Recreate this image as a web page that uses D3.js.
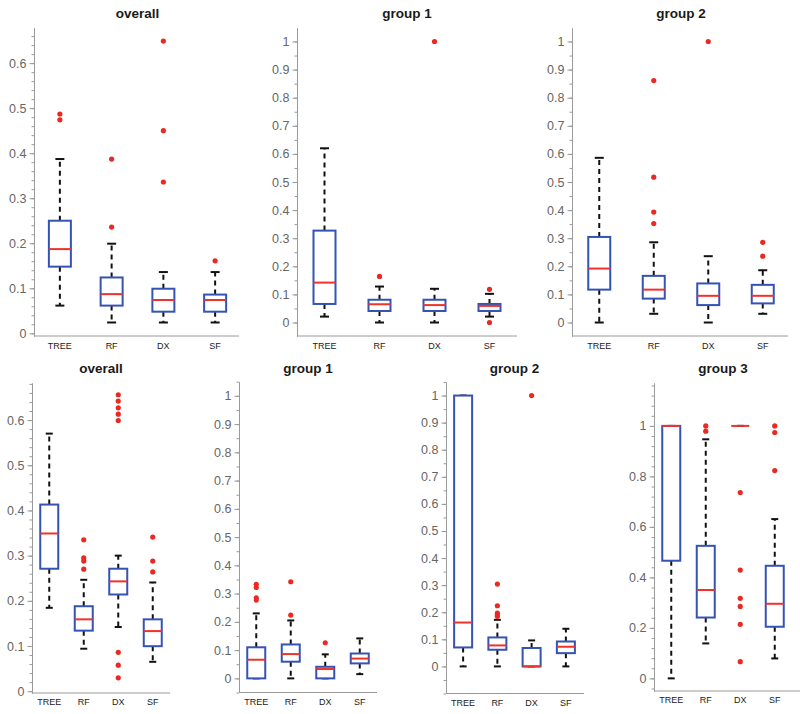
<!DOCTYPE html>
<html>
<head>
<meta charset="utf-8">
<script src="https://cdn.jsdelivr.net/npm/d3@7/dist/d3.min.js"></script>
<style>
  html, body { margin: 0; padding: 0; background: #fff; }
  svg { display: block; }
  text { font-family: "Liberation Sans", Arial, Helvetica, sans-serif; }
</style>
</head>
<body>
<svg id="chart" width="800" height="714"></svg>
<script>
// ---------- DATA ----------
const categories = ["TREE", "RF", "DX", "SF"];
const titles = ["overall", "group 1", "group 2", "overall", "group 1", "group 2", "group 3"];

// five-number summaries per category: [lower whisker, Q1, median, Q3, upper whisker]
const topOverallStats = [[0.0615, 0.148, 0.187, 0.250, 0.387], [0.024, 0.0615, 0.087, 0.124, 0.199], [0.024, 0.048, 0.074, 0.099, 0.136], [0.024, 0.048, 0.074, 0.086, 0.136]];
const topOverallOutliers = [[0.487, 0.474], [0.387, 0.236], [0.649, 0.450, 0.336], [0.161]];

const topGroup1Stats = [[0.021, 0.066, 0.142, 0.327, 0.620], [0, 0.041, 0.065, 0.081, 0.128], [0, 0.041, 0.062, 0.081, 0.120], [0.021, 0.041, 0.059, 0.066, 0.102]];
const topGroup1Outliers = [[], [0.164], [1.0], [0.118, 0]];

const topGroup2Stats = [[0, 0.117, 0.192, 0.3045, 0.586], [0.031, 0.085, 0.117, 0.166, 0.2855], [0, 0.062, 0.095, 0.139, 0.236], [0.031, 0.068, 0.095, 0.134, 0.186]];
const topGroup2Outliers = [[], [0.861, 0.517, 0.393, 0.352], [1.0], [0.2855, 0.236]];

const botOverallStats = [[0.1845, 0.271, 0.349, 0.413, 0.570], [0.094, 0.134, 0.159, 0.188, 0.2465], [0.142, 0.214, 0.243, 0.271, 0.300], [0.065, 0.0996, 0.133, 0.159, 0.2406]];
const botOverallOutliers = [[], [0.335, 0.295, 0.288, 0.270], [0.656, 0.642, 0.627, 0.613, 0.599, 0.086, 0.0576, 0.0295], [0.341, 0.288, 0.264]];

const botGroup1Stats = [[0, 0, 0.066, 0.110, 0.230], [0, 0.059, 0.086, 0.120, 0.205], [0, 0, 0.033, 0.041, 0.085], [0.015, 0.053, 0.070, 0.088, 0.1415]];
const botGroup1Outliers = [[0.333, 0.322, 0.285, 0.277], [0.342, 0.224], [0.126], []];

const botGroup2Stats = [[0, 0.070, 0.162, 1.0, 1.0], [0, 0.0615, 0.0775, 0.107, 0.172], [0, 0, 0, 0.068, 0.096], [0, 0.049, 0.0726, 0.092, 0.139]];
const botGroup2Outliers = [[], [0.304, 0.224, 0.197, 0.19, 0.185], [1.0], []];

const botGroup3Stats = [[0, 0.466, 1.0, 1.0, 1.0], [0.1385, 0.241, 0.350, 0.525, 0.947], [1, 1, 1, 1, 1], [0.079, 0.2045, 0.2955, 0.446, 0.631]];
const botGroup3Outliers = [[], [1.0, 0.979], [0.736, 0.429, 0.317, 0.285, 0.214, 0.066], [1.0, 0.974, 0.823]];

// tick labels
const ticksTenthsTo06 = [0, 0.1, 0.2, 0.3, 0.4, 0.5, 0.6];
const ticksTenthsTo1 = [0, 0.1, 0.2, 0.3, 0.4, 0.5, 0.6, 0.7, 0.8, 0.9, 1];
const ticksFifthsTo1 = [0, 0.2, 0.4, 0.6, 0.8, 1];
const tickLabels06 = ["0", "0.1", "0.2", "0.3", "0.4", "0.5", "0.6"];
const tickLabels1 = ["0", "0.1", "0.2", "0.3", "0.4", "0.5", "0.6", "0.7", "0.8", "0.9", "1"];
const tickLabelsFifths = ["0", "0.2", "0.4", "0.6", "0.8", "1"];

// ---------- LAYOUT ----------
const panels = [
  {title: titles[0], stats: topOverallStats, out: topOverallOutliers, ticks: ticksTenthsTo06, labels: tickLabels06, minor: 0.02,
   domain: [-0.006, 0.678], left: 34, right: 241, axisEnd: 239, top: 28, bottom: 336, boxW: 22, capW: 9, row: 0},
  {title: titles[1], stats: topGroup1Stats, out: topGroup1Outliers, ticks: ticksTenthsTo1, labels: tickLabels1, minor: 0.05,
   domain: [-0.048, 1.048], left: 297, right: 517, axisEnd: 517, top: 28, bottom: 336, boxW: 22, capW: 9, row: 0},
  {title: titles[2], stats: topGroup2Stats, out: topGroup2Outliers, ticks: ticksTenthsTo1, labels: tickLabels1, minor: 0.05,
   domain: [-0.048, 1.048], left: 572, right: 790, axisEnd: 788, top: 28, bottom: 336, boxW: 22, capW: 9, row: 0},
  {title: titles[3], stats: botOverallStats, out: botOverallOutliers, ticks: ticksTenthsTo06, labels: tickLabels06, minor: 0.02,
   domain: [-0.004, 0.682], left: 32, right: 170, axisEnd: 170, top: 383, bottom: 693, boxW: 18, capW: 7, row: 1},
  {title: titles[4], stats: botGroup1Stats, out: botGroup1Outliers, ticks: ticksTenthsTo1, labels: tickLabels1, minor: 0.05,
   domain: [-0.05, 1.05], left: 239, right: 377, axisEnd: 377, top: 381.7, bottom: 692.5, boxW: 18, capW: 7, row: 1},
  {title: titles[5], stats: botGroup2Stats, out: botGroup2Outliers, ticks: ticksTenthsTo1, labels: tickLabels1, minor: 0.05,
   domain: [-0.1, 1.05], left: 446, right: 583, axisEnd: 584, top: 382, bottom: 693.5, boxW: 18, capW: 7, row: 1},
  {title: titles[6], stats: botGroup3Stats, out: botGroup3Outliers, ticks: ticksFifthsTo1, labels: tickLabelsFifths, minor: 0.04,
   domain: [-0.05, 1.17], left: 654, right: 792, axisEnd: 800, top: 383, bottom: 691, boxW: 18, capW: 7, row: 1}
];

const axisColor = "#9a9a9a";
const tickTextColor = "#666666";
const boxColor = "#3553b5";
const medColor = "#f0332a";
const outColor = "#ea2a22";

const svg = d3.select("#chart");

panels.forEach(p => {
  const g = svg.append("g");
  const y = d3.scaleLinear().domain(p.domain).range([p.bottom, p.top]);
  const x = d3.scaleLinear().domain([0.5, categories.length + 0.5]).range([p.left, p.right]);
  const xc = i => x(i + 1);

  // minor ticks
  const minorVals = d3.range(Math.ceil(p.domain[0] / p.minor) * p.minor, p.domain[1] + 1e-9, p.minor)
    .map(v => Math.round(v * 1000) / 1000);
  const minorAxis = d3.axisLeft(y).tickValues(minorVals).tickSize(2.5).tickSizeOuter(0).tickFormat("");
  const gm = g.append("g").attr("transform", `translate(${p.left},0)`).call(minorAxis);
  gm.select(".domain").attr("stroke", axisColor);
  gm.selectAll(".tick line").attr("stroke", axisColor);

  // major ticks
  const majorAxis = d3.axisLeft(y).tickValues(p.ticks).tickSize(4.5).tickSizeOuter(0)
    .tickFormat((d, i) => p.labels[i]).tickPadding(3);
  const ga = g.append("g").attr("transform", `translate(${p.left},0)`).call(majorAxis);
  ga.select(".domain").attr("stroke", axisColor);
  ga.selectAll(".tick line").attr("stroke", axisColor);
  ga.selectAll(".tick text").attr("fill", tickTextColor).style("font-size", "12.5px")
    .style("font-family", "'Liberation Sans', Arial, sans-serif");

  // x axis line
  g.append("line").attr("x1", p.left).attr("x2", p.axisEnd).attr("y1", p.bottom).attr("y2", p.bottom)
    .attr("stroke", axisColor).attr("stroke-width", 1);

  // x labels
  categories.forEach((c, i) => {
    g.append("text").attr("x", xc(i)).attr("y", p.bottom + (p.row === 0 ? 12.5 : 12))
      .attr("text-anchor", "middle").attr("fill", "#222").style("font-size", "9px").text(c);
  });

  // title
  g.append("text").attr("x", (p.left + p.right) / 2).attr("y", p.row === 0 ? 18 : 372.5)
    .attr("text-anchor", "middle").attr("fill", "#1a1a1a").style("font-size", "13.5px")
    .style("font-weight", "bold").text(p.title);

  // boxes
  p.stats.forEach((s, i) => {
    const [lo, q1, med, q3, hi] = s;
    const cx = xc(i);
    // whiskers (dashed)
    g.append("line").attr("x1", cx).attr("x2", cx).attr("y1", y(q3)).attr("y2", y(hi))
      .attr("stroke", "#111").attr("stroke-width", 2).attr("stroke-dasharray", "5,4");
    g.append("line").attr("x1", cx).attr("x2", cx).attr("y1", y(q1)).attr("y2", y(lo))
      .attr("stroke", "#111").attr("stroke-width", 2).attr("stroke-dasharray", "5,4");
    // caps
    [lo, hi].forEach(v => {
      g.append("line").attr("x1", cx - p.capW / 2).attr("x2", cx + p.capW / 2)
        .attr("y1", y(v)).attr("y2", y(v)).attr("stroke", "#111").attr("stroke-width", 2);
    });
    // box
    g.append("rect").attr("x", cx - p.boxW / 2).attr("width", p.boxW)
      .attr("y", y(q3)).attr("height", Math.max(0, y(q1) - y(q3)))
      .attr("fill", "#fff").attr("stroke", boxColor).attr("stroke-width", 2);
    // median
    g.append("line").attr("x1", cx - p.boxW / 2).attr("x2", cx + p.boxW / 2)
      .attr("y1", y(med)).attr("y2", y(med)).attr("stroke", medColor).attr("stroke-width", 2);
    // outliers
    p.out[i].forEach(v => {
      g.append("circle").attr("cx", cx).attr("cy", y(v)).attr("r", 2.6).attr("fill", outColor);
    });
  });
});
</script>
</body>
</html>
